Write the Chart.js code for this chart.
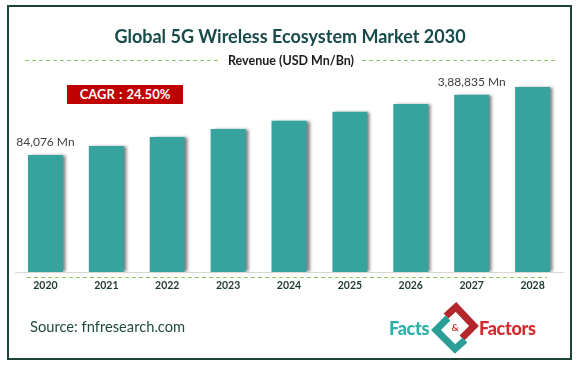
<!DOCTYPE html>
<html>
<head>
<meta charset="utf-8">
<script src="https://cdn.jsdelivr.net/npm/chart.js@4.4.1/dist/chart.umd.min.js"></script>
<style>
  html, body { margin: 0; padding: 0; background: #ffffff; }
  #wrap { position: relative; width: 580px; height: 367px; overflow: hidden; background: #fff; font-family: Lato, "Open Sans", sans-serif; }
  #c { position: absolute; left: 0; top: 0; }
  .frame { position: absolute; left: 7px; top: 5px; width: 565px; height: 355px; box-sizing: border-box; border: 2px solid #1d4537; }
  .t { position: absolute; white-space: nowrap; line-height: 1; }
  #title { left: 0; width: 580px; text-align: center; top: 27px; font-size: 18px; font-weight: 700; color: #174a4a; }
  #subtitle { left: 0; width: 582px; text-align: center; top: 55px; font-size: 12.5px; font-weight: 700; color: #1c1c1c; }
  #cagr { left: 67px; top: 85px; width: 116px; height: 19px; background: #c00000; color: #fff; font-size: 13px; font-weight: 700; text-align: center; line-height: 19px; word-spacing: 1px; }
  #source { left: 30px; top: 319px; font-size: 14.7px; color: #1f4a40; }
  #facts { left: 389px; top: 319px; font-size: 18px; font-weight: 900; color: #2bb0aa; letter-spacing: -0.3px; }
  #factors { left: 479px; top: 319px; font-size: 18px; font-weight: 900; color: #d42a2e; letter-spacing: -0.3px; }
</style>
</head>
<body>
<div id="wrap">
  <canvas id="c" width="580" height="367"></canvas>
  <div class="frame"></div>
  <div class="t" id="title">Global 5G Wireless Ecosystem Market 2030</div>
  <div class="t" id="subtitle">Revenue (USD Mn/Bn)</div>
  <div class="t" id="cagr">CAGR : 24.50%</div>
  <div class="t" id="source">Source: fnfresearch.com</div>
  <div class="t" id="facts">Facts</div>
  <div class="t" id="factors">Factors</div>
</div>
<script>
// ---- data ----
const years = ['2020', '2021', '2022', '2023', '2024', '2025', '2026', '2027', '2028'];
// relative revenue level per year as drawn (2020 = 100)
const revenueIndex = [100, 107.7, 115.4, 122.2, 129.1, 136.8, 143.6, 151.3, 158.1];
// value labels shown above bars
const valueLabels = ['84,076 Mn', '', '', '', '', '', '', '3,88,835 Mn', ''];
const yMax = 164;

const shadowPlugin = {
  id: 'barShadow',
  beforeDatasetsDraw(chart) {
    const ctx = chart.ctx;
    ctx.save();
    ctx.shadowColor = 'rgba(0,0,0,0.5)';
    ctx.shadowBlur = 3;
    ctx.shadowOffsetX = 3;
    ctx.shadowOffsetY = 0;
  },
  afterDatasetsDraw(chart) {
    chart.ctx.restore();
    const ctx = chart.ctx;
    const meta = chart.getDatasetMeta(0);
    ctx.save();
    ctx.font = '12px Lato, "Open Sans", sans-serif';
    ctx.fillStyle = '#404040';
    ctx.textAlign = 'center';
    ctx.textBaseline = 'middle';
    meta.data.forEach((bar, i) => {
      if (valueLabels[i]) ctx.fillText(valueLabels[i], bar.x, bar.y - 13);
    });
    ctx.restore();
  }
};

const decoPlugin = {
  id: 'deco',
  afterDraw(chart) {
    const ctx = chart.ctx;
    ctx.save();
    // dashed green lines
    ctx.strokeStyle = '#8cc464';
    ctx.lineWidth = 1;
    ctx.setLineDash([4, 3]);
    ctx.beginPath();
    ctx.moveTo(25, 60.5); ctx.lineTo(218, 60.5);
    ctx.moveTo(362, 60.5); ctx.lineTo(555, 60.5);
    const b = chart.chartArea.bottom;
    ctx.moveTo(27, b + 5.5); ctx.lineTo(547, b + 5.5);
    ctx.stroke();
    ctx.setLineDash([]);
    // logo icon (two interlocking chevrons)
    ctx.lineCap = 'butt';
    ctx.lineJoin = 'miter';
    ctx.lineWidth = 7;
    ctx.strokeStyle = '#b3262b';
    ctx.beginPath();
    ctx.moveTo(446, 316); ctx.lineTo(456, 307); ctx.lineTo(474, 326); ctx.lineTo(462, 338);
    ctx.stroke();
    ctx.strokeStyle = '#2a9e97';
    ctx.beginPath();
    ctx.moveTo(465, 340); ctx.lineTo(455, 349); ctx.lineTo(436, 330); ctx.lineTo(448, 318);
    ctx.stroke();
    ctx.fillStyle = '#c0392b';
    ctx.font = 'bold 10px Lato, sans-serif';
    ctx.textAlign = 'center';
    ctx.textBaseline = 'middle';
    ctx.fillText('&', 455, 328);
    ctx.restore();
  }
};

new Chart(document.getElementById('c'), {
  type: 'bar',
  data: {
    labels: years,
    datasets: [{
      data: revenueIndex,
      backgroundColor: '#37a39f',
      borderWidth: 0,
      barPercentage: 0.575,
      categoryPercentage: 1
    }]
  },
  options: {
    responsive: false,
    animation: false,
    devicePixelRatio: 1,
    layout: { padding: { left: 15, right: 17, top: 80, bottom: 0 } },
    plugins: { legend: { display: false }, tooltip: { enabled: false }, title: { display: false } },
    scales: {
      x: {
        grid: { display: false, drawTicks: false },
        border: { display: true, color: '#d9d9d9', width: 1 },
        ticks: { color: '#1d3a2c', font: { family: 'Lato, "Open Sans", sans-serif', size: 10.5, weight: 'bold' }, padding: 7, maxRotation: 0 },
        afterFit(scale) { scale.height = 95; }
      },
      y: { display: false, min: 0, max: yMax }
    }
  },
  plugins: [shadowPlugin, decoPlugin]
});
</script>
</body>
</html>
